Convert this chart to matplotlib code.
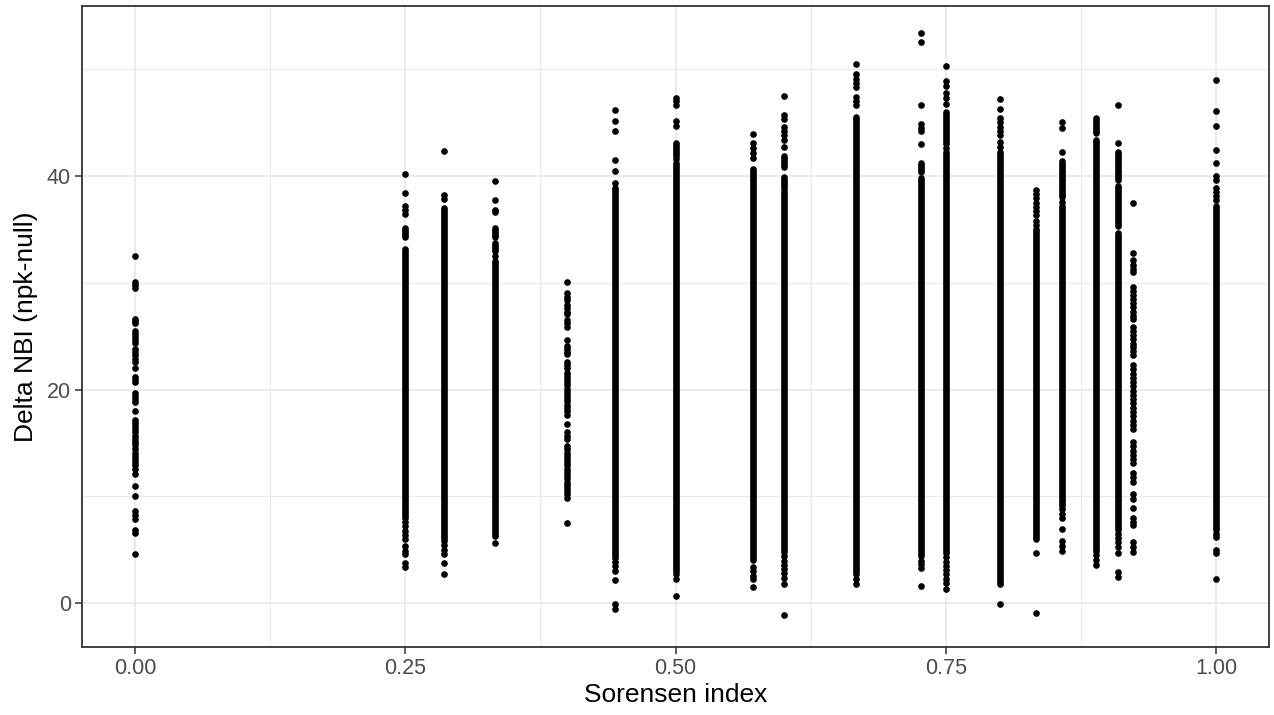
import matplotlib
matplotlib.use("Agg")
import matplotlib.pyplot as plt

# ---- data ----
x_values = [0.0, 0.25, 2/7, 1/3, 0.4, 4/9, 0.5, 4/7, 0.6, 2/3, 8/11, 0.75,
            0.8, 5/6, 6/7, 8/9, 10/11, 12/13, 1.0]

# dense (visually continuous) runs of points per column: (low, high)
dense_runs = [
    [],
    [(8.0, 33.2), (34.3, 35.1)],
    [(5.8, 37.0)],
    [(6.3, 32.0), (33.0, 33.7), (34.3, 35.1)],
    [],
    [(4.2, 38.9)],
    [(3.0, 41.2), (41.9, 43.1)],
    [(4.1, 40.6)],
    [(4.8, 38.6), (38.9, 39.9), (40.8, 41.9)],
    [(2.7, 45.5)],
    [(4.4, 39.8), (40.4, 41.2)],
    [(4.7, 42.2), (43.0, 46.0)],
    [(2.0, 42.2)],
    [(6.0, 35.0)],
    [(9.1, 37.2), (38.0, 41.4)],
    [(5.1, 43.4), (44.0, 45.4)],
    [(6.9, 34.7), (35.3, 39.1), (39.6, 42.2)],
    [],
    [(6.9, 37.2)],
]

# separate points per column
sparse_points = [
    [32.5, 30.1, 29.8, 29.5, 26.6, 26.4, 26.2, 25.5, 25.2, 24.9, 24.6, 24.4,
     23.8, 23.5, 23.2, 22.9, 22.6, 22.0, 21.2, 20.9, 20.7, 19.7, 19.4, 19.1,
     18.8, 18.0, 17.2, 16.9, 16.6, 16.3, 16.0, 15.7, 15.4, 15.1, 14.8, 14.4,
     14.1, 13.8, 13.5, 13.2, 12.9, 12.6, 12.1, 11.0, 10.0, 8.6, 8.3, 7.9,
     6.9, 6.6, 4.6],
    [40.2, 38.4, 37.2, 36.8, 36.4, 7.6, 7.2, 6.8, 6.4, 6.0, 5.4, 4.9, 4.6,
     3.8, 3.4],
    [42.3, 38.2, 37.8, 5.5, 5.0, 4.6, 3.8, 2.7],
    [39.5, 37.7, 36.8, 36.6, 32.5, 5.6],
    [30.1, 29.0, 28.7, 28.4, 27.9, 27.6, 27.3, 27.1, 26.5, 26.2, 25.9, 24.6,
     24.1, 23.8, 23.5, 23.3, 22.6, 22.3, 22.0, 21.6, 21.3, 21.0, 20.7, 20.4,
     20.1, 19.8, 19.5, 19.2, 18.9, 18.6, 18.3, 18.0, 17.6, 16.8, 16.0, 15.7,
     15.4, 14.7, 14.4, 14.1, 13.8, 13.5, 13.2, 12.9, 12.6, 12.3, 12.0, 11.7,
     11.4, 11.1, 10.8, 10.5, 10.2, 9.9, 7.5],
    [46.2, 45.1, 44.2, 41.5, 40.5, 39.3, 3.9, 3.5, 3.0, 2.2, -0.1, -0.5],
    [47.3, 47.0, 46.6, 45.1, 44.7, 41.6, 2.7, 2.3, 0.7],
    [43.9, 43.1, 42.6, 42.1, 41.7, 3.4, 3.0, 2.6, 2.3, 1.5],
    [47.5, 45.7, 45.3, 44.6, 44.2, 43.8, 43.4, 42.7, 4.4, 4.0, 3.6, 3.2,
     2.8, 2.4, 1.8, -1.1],
    [50.5, 49.5, 49.1, 48.7, 48.3, 47.4, 47.0, 46.6, 2.3, 1.8],
    [53.4, 52.5, 46.6, 44.9, 44.5, 44.2, 43.0, 4.0, 3.7, 3.3, 1.6],
    [50.3, 48.9, 48.4, 47.8, 47.3, 46.7, 42.6, 4.3, 3.9, 3.5, 3.1, 2.7,
     2.3, 1.9, 1.3],
    [47.2, 46.3, 45.4, 45.0, 44.6, 44.2, 43.8, 43.2, 42.7, 1.8, -0.1],
    [38.7, 38.3, 37.9, 37.5, 37.1, 36.7, 36.3, 35.8, 35.4, 4.7, -0.9],
    [45.0, 44.5, 42.2, 37.6, 8.8, 8.4, 8.0, 7.0, 5.8, 5.4, 4.9],
    [4.9, 4.5, 4.1, 3.6],
    [46.6, 43.1, 6.5, 6.1, 5.7, 5.3, 4.7, 2.9, 2.5],
    [37.5, 32.8, 32.1, 31.7, 31.3, 31.0, 29.6, 29.2, 28.9, 28.5, 28.1, 27.7,
     27.3, 26.9, 26.6, 25.9, 25.5, 25.1, 24.7, 24.3, 24.0, 23.6, 23.2, 22.3,
     21.9, 21.5, 21.1, 20.7, 20.3, 19.9, 19.5, 19.1, 18.7, 18.3, 17.9, 17.5,
     17.1, 16.7, 16.3, 15.1, 14.7, 14.3, 13.9, 13.5, 13.1, 12.2, 11.8, 11.4,
     10.2, 9.8, 8.9, 8.0, 7.6, 7.3, 5.7, 5.3, 4.8],
    [49.0, 46.1, 44.7, 42.4, 41.2, 40.0, 39.6, 38.9, 38.5, 38.1, 37.7, 6.5,
     6.2, 5.0, 4.7, 2.3],
]

x_ticks = [0.0, 0.25, 0.5, 0.75, 1.0]
x_tick_labels = ["0.00", "0.25", "0.50", "0.75", "1.00"]
y_ticks = [0, 20, 40]
y_tick_labels = ["0", "20", "40"]
x_label = "Sorensen index"
y_label = "Delta NBI (npk-null)"

# ---- figure ----
plt.rcParams["font.family"] = ["Liberation Sans", "DejaVu Sans"]
fig = plt.figure(figsize=(12.74, 7.15), dpi=100)
ax = fig.add_axes([82/1274, 1 - 646.7/715, (1269-82)/1274, (646.7-6)/715])

ax.set_xlim(-0.049, 1.049)
ax.set_ylim(-4.06, 55.9)

grid_col = "#EBEBEB"
for v in [0.125, 0.375, 0.625, 0.875]:
    ax.axvline(v, color=grid_col, lw=0.8, zorder=0)
for v in [10, 30, 50]:
    ax.axhline(v, color=grid_col, lw=0.8, zorder=0)
for v in x_ticks:
    ax.axvline(v, color=grid_col, lw=1.4, zorder=0)
for v in y_ticks:
    ax.axhline(v, color=grid_col, lw=1.4, zorder=0)

msize = 4.8  # marker diameter in points
for xv, runs, pts in zip(x_values, dense_runs, sparse_points):
    for lo, hi in runs:
        ax.plot([xv, xv], [lo, hi], color="black", lw=msize,
                solid_capstyle="round", zorder=3)
    ax.scatter([xv] * len(pts), pts, s=msize ** 2, color="black",
               linewidths=0, zorder=3)

ax.set_xticks(x_ticks)
ax.set_xticklabels(x_tick_labels)
ax.set_yticks(y_ticks)
ax.set_yticklabels(y_tick_labels)
ax.tick_params(axis="both", colors="#333333", length=5, width=1.1,
               labelsize=15.5, labelcolor="#4D4D4D", pad=3)

for s in ax.spines.values():
    s.set_color("#333333")
    s.set_linewidth(1.3)

ax.set_xlabel(x_label, fontsize=19, color="black", labelpad=3)
ax.set_ylabel(y_label, fontsize=19, color="black", labelpad=6)

fig.savefig("out.png", dpi=100)
